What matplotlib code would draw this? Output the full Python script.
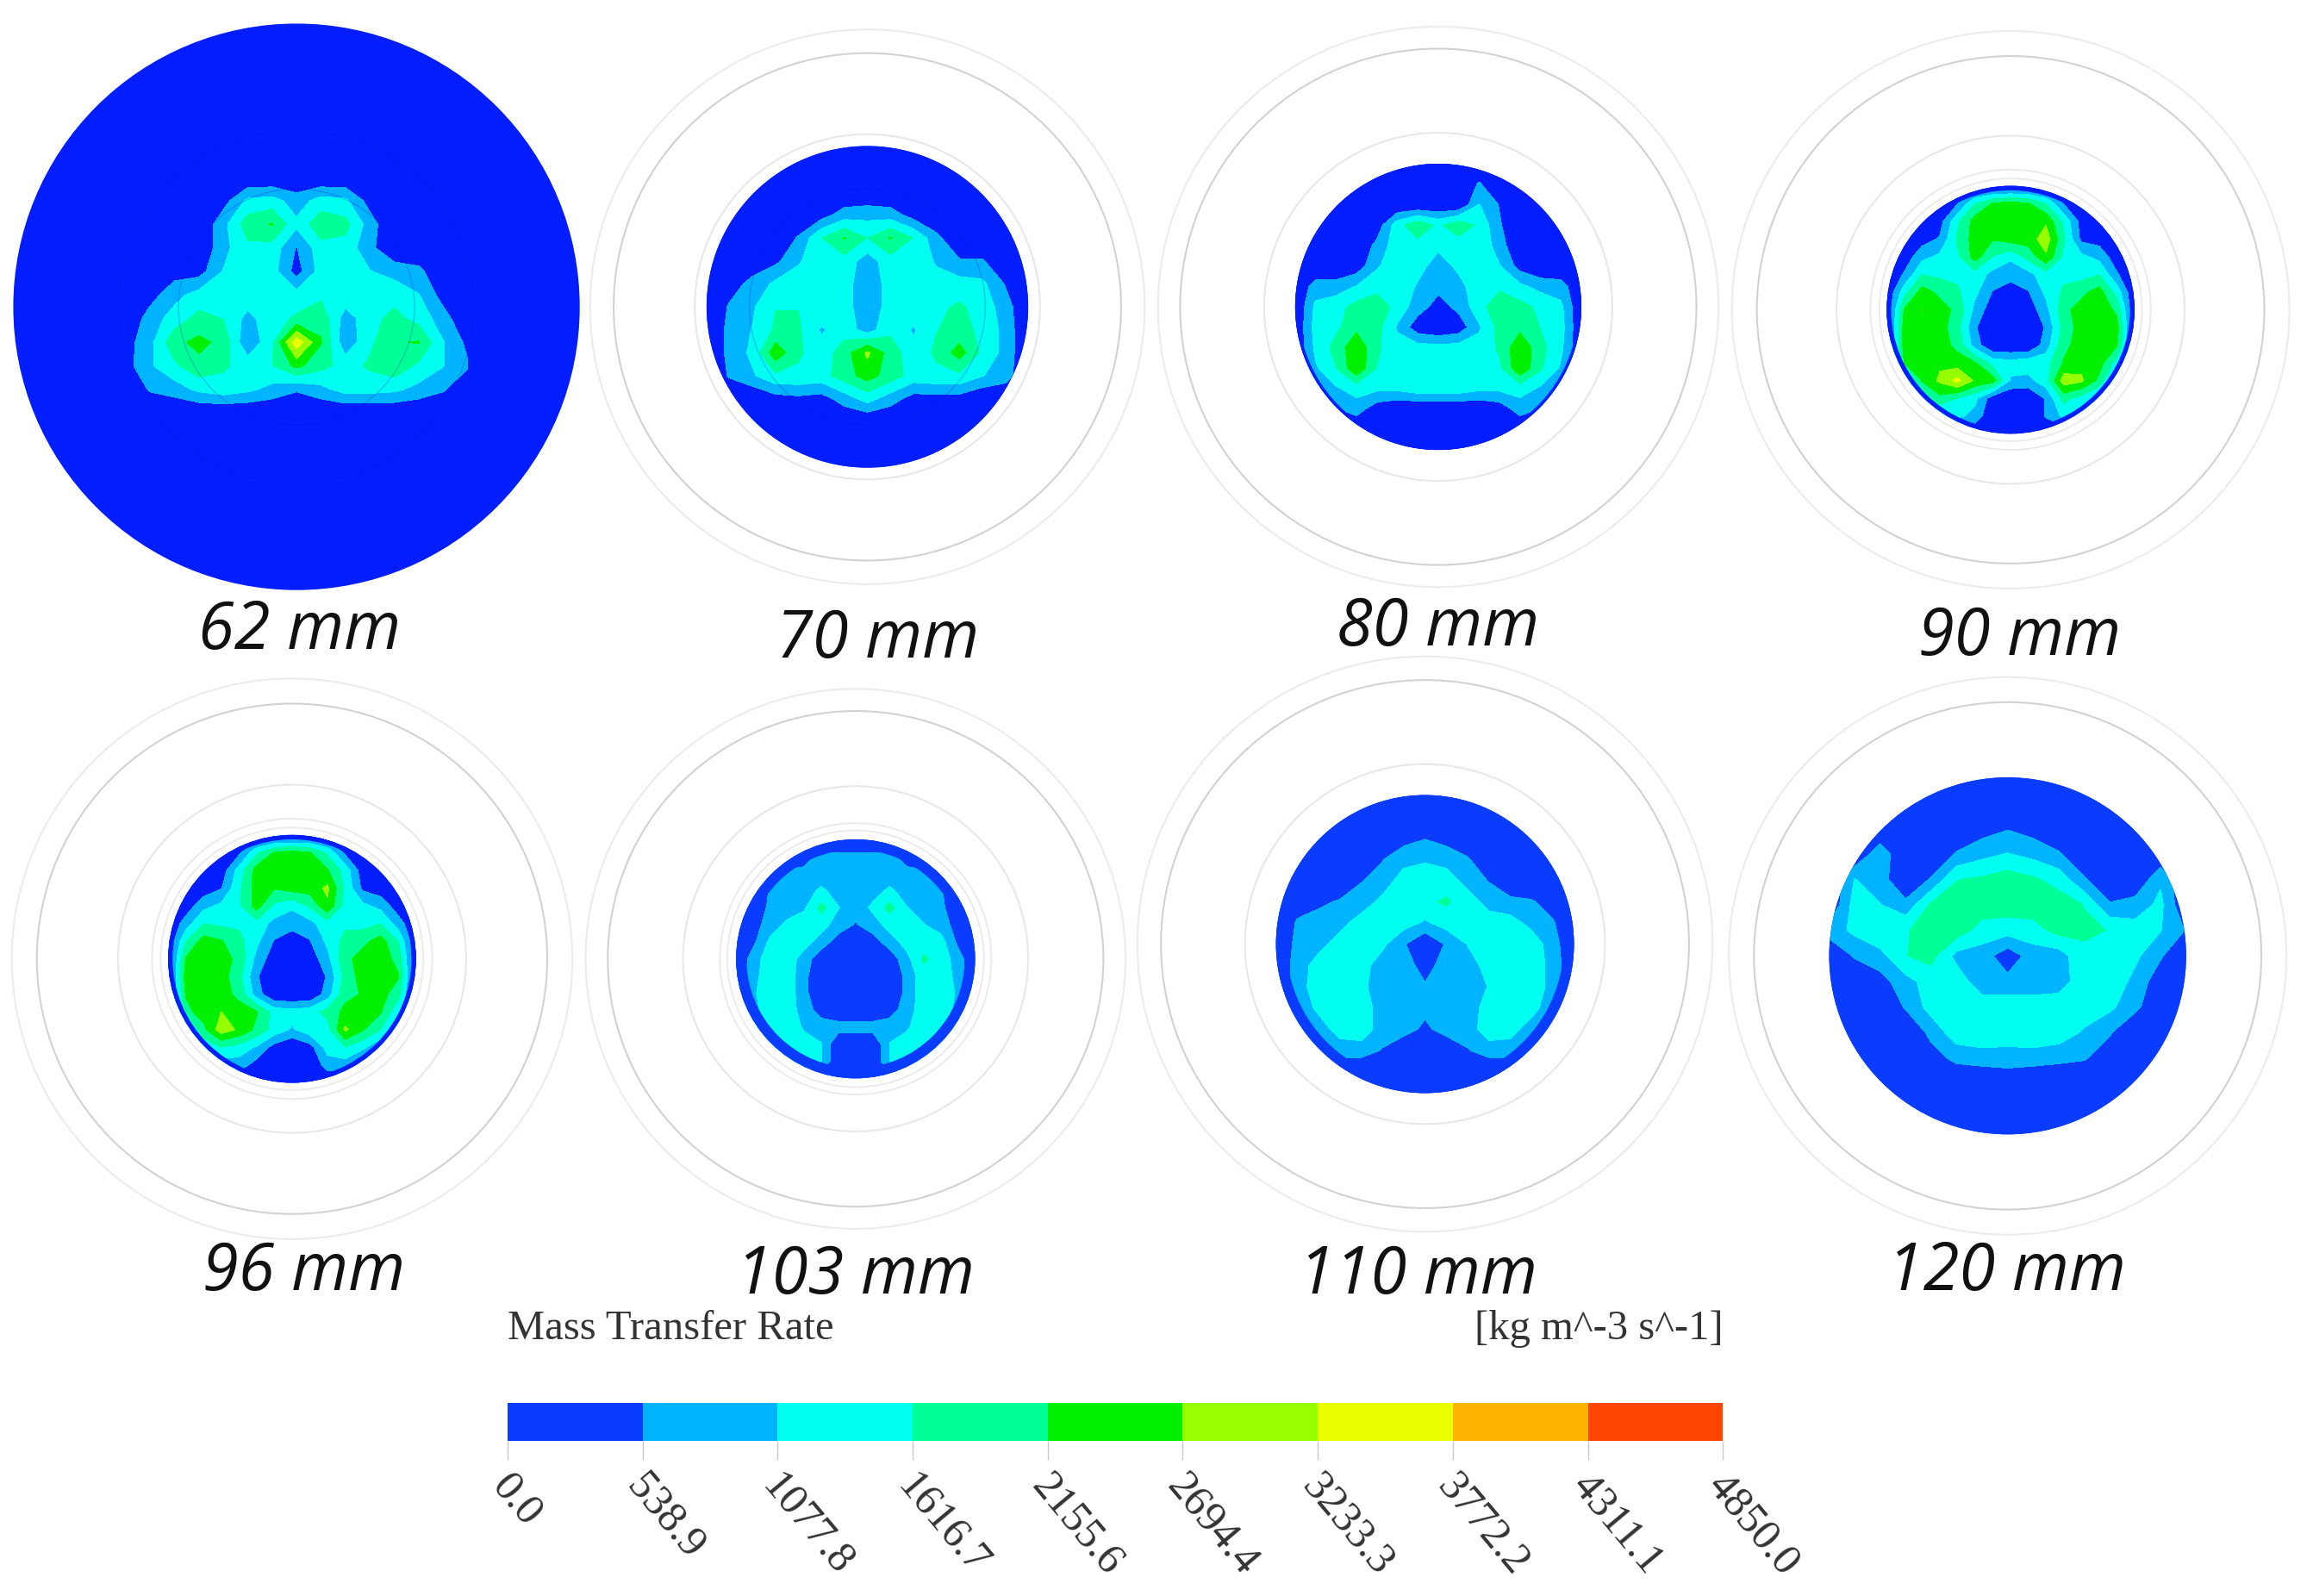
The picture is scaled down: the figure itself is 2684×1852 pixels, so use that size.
import numpy as np
import matplotlib
matplotlib.use("Agg")
import matplotlib.pyplot as plt
from matplotlib.colors import ListedColormap, BoundaryNorm
from matplotlib.patches import Circle
from matplotlib.cm import ScalarMappable
from matplotlib.transforms import ScaledTranslation

LEVELS = [0.0, 538.9, 1077.8, 1616.7, 2155.6, 2694.4, 3233.3, 3772.2, 4311.1, 4850.0]
LEVEL_LABELS = ["0.0", "538.9", "1077.8", "1616.7", "2155.6", "2694.4", "3233.3", "3772.2", "4311.1", "4850.0"]
BAND_COLORS = ["#0a3cff", "#00b4ff", "#00fff0", "#00ff96", "#00f000",
               "#96ff00", "#ebff00", "#ffb400", "#ff4600"]

LABELS = ["62 mm", "70 mm", "80 mm", "90 mm", "96 mm", "103 mm", "110 mm", "120 mm"]

# values, in hundreds of kg m^-3 s^-1, rows top to bottom
GRID_62 = [
    [0, 0, 0, 0, 0, 0, 0, 0, 0, 0, 0, 0, 0, 0, 0],
    [0, 0, 0, 0, 3, 12, 13, 8, 13, 12, 3, 0, 0, 0, 0],
    [0, 0, 0, 0, 9, 19, 22, 12, 20, 18, 8, 0, 0, 0, 0],
    [0, 0, 0, 0, 9, 15, 14, 5, 14, 14, 7, 0, 0, 0, 0],
    [0, 0, 3, 3, 11, 14, 13, 3, 13, 13, 11, 9, 7, 0, 0],
    [0, 3, 9, 13, 14, 14, 14, 13, 15, 14, 14, 14, 11, 3, 0],
    [0, 8, 13, 18, 16, 9, 14, 17, 20, 8, 14, 18, 14, 8, 0],
    [3, 9, 20, 23, 20, 6, 15, 36, 22, 7, 15, 21, 22, 11, 4],
    [3, 10, 15, 20, 17, 14, 16, 23, 18, 14, 17, 20, 15, 11, 6],
    [0, 6, 8, 12, 14, 12, 9, 6, 9, 13, 13, 12, 9, 6, 1],
    [0, 0, 0, 0, 0, 0, 0, 0, 0, 0, 0, 0, 0, 0, 0],
]
GRID_70 = [
    [0, 0, 0, 0, 0, 0, 0, 0, 0, 0, 0, 0, 0, 0, 0],
    [0, 0, 0, 0, 0, 0, 0, 0, 0, 0, 0, 0, 0, 0, 0],
    [0, 0, 0, 0, 0, 0, 0, 0, 0, 0, 0, 0, 0, 0, 0],
    [0, 0, 0, 0, 0, 3, 8, 9, 8, 3, 0, 0, 0, 0, 0],
    [0, 0, 0, 0, 6, 16, 22, 16, 22, 16, 7, 0, 0, 0, 0],
    [0, 0, 2, 4, 10, 15, 14, 8, 14, 15, 10, 6, 6, 0, 0],
    [0, 3, 7, 12, 14, 14, 13, 7, 13, 14, 13, 13, 12, 5, 0],
    [0, 6, 10, 16, 16, 15, 13, 7, 13, 15, 15, 17, 14, 8, 0],
    [0, 7, 11, 17, 17, 10, 14, 8, 15, 10, 16, 18, 15, 9, 0],
    [0, 7, 12, 25, 17, 13, 19, 28, 19, 13, 17, 24, 15, 9, 0],
    [0, 6, 10, 15, 15, 14, 19, 24, 19, 14, 15, 15, 11, 8, 0],
    [0, 0, 0, 3, 4, 3, 8, 13, 8, 3, 3, 3, 0, 0, 0],
    [0, 0, 0, 0, 0, 0, 0, 0, 0, 0, 0, 0, 0, 0, 0],
    [0, 0, 0, 0, 0, 0, 0, 0, 0, 0, 0, 0, 0, 0, 0],
    [0, 0, 0, 0, 0, 0, 0, 0, 0, 0, 0, 0, 0, 0, 0],
]
GRID_80 = [
    [0, 0, 0, 0, 0, 0, 0, 0, 0, 0, 0, 0, 0, 0, 0],
    [0, 0, 0, 0, 0, 0, 0, 0, 0, 6, 0, 0, 0, 0, 0],
    [0, 0, 0, 0, 0, 0, 0, 0, 0, 11, 5, 0, 0, 0, 0],
    [0, 0, 0, 0, 2, 14, 20, 15, 20, 15, 6, 0, 0, 0, 0],
    [0, 0, 0, 0, 7, 14, 14, 12, 13, 15, 8, 0, 0, 0, 0],
    [0, 0, 0, 2, 10, 14, 13, 8, 12, 14, 11, 3, 0, 0, 0],
    [0, 8, 8, 11, 14, 15, 10, 7, 9, 14, 15, 12, 9, 8, 0],
    [0, 12, 14, 18, 20, 14, 8, 3, 7, 14, 20, 18, 15, 12, 0],
    [0, 13, 15, 20, 18, 10, 2, 0, 2, 10, 18, 20, 16, 13, 0],
    [0, 12, 18, 26, 17, 13, 13, 13, 13, 13, 17, 26, 18, 12, 0],
    [0, 10, 16, 26, 16, 13, 15, 15, 15, 13, 15, 26, 17, 10, 0],
    [0, 5, 10, 13, 12, 12, 14, 14, 14, 12, 12, 13, 10, 5, 0],
    [0, 0, 5, 8, 2, 0, 0, 0, 0, 0, 2, 8, 5, 0, 0],
    [0, 0, 0, 0, 0, 0, 0, 0, 0, 0, 0, 0, 0, 0, 0],
    [0, 0, 0, 0, 0, 0, 0, 0, 0, 0, 0, 0, 0, 0, 0],
]
GRID_90 = [
    [0, 0, 0, 0, 0, 0, 0, 0, 0, 0, 0, 0, 0, 0, 0],
    [0, 0, 0, 0, 5, 16, 22, 24, 22, 16, 5, 0, 0, 0, 0],
    [0, 0, 0, 3, 15, 24, 24, 24, 24, 26, 15, 3, 0, 0, 0],
    [0, 0, 3, 6, 17, 24, 22, 24, 24, 30, 17, 4, 3, 0, 0],
    [0, 2, 9, 12, 15, 24, 16, 12, 18, 26, 15, 12, 9, 2, 0],
    [0, 6, 16, 15, 15, 14, 9, 7, 9, 14, 15, 14, 16, 6, 0],
    [0, 14, 24, 20, 17, 12, 5, 3, 5, 12, 17, 20, 24, 14, 0],
    [0, 22, 27, 24, 20, 9, 2, 0, 2, 9, 20, 24, 26, 20, 0],
    [0, 24, 25, 24, 18, 6, 0, 0, 0, 6, 18, 24, 25, 24, 0],
    [0, 24, 26, 24, 20, 8, 0, 0, 0, 8, 20, 24, 26, 22, 0],
    [0, 22, 26, 26, 24, 22, 14, 13, 14, 14, 22, 25, 24, 14, 0],
    [0, 8, 22, 28, 34, 26, 24, 10, 9, 14, 30, 28, 20, 5, 0],
    [0, 2, 14, 20, 16, 12, 2, 0, 0, 6, 18, 14, 8, 2, 0],
    [0, 0, 2, 9, 12, 9, 0, 0, 0, 6, 12, 9, 2, 0, 0],
    [0, 0, 0, 0, 0, 0, 0, 0, 0, 0, 0, 0, 0, 0, 0],
]
GRID_96 = [
    [0, 0, 0, 0, 0, 0, 0, 0, 0, 0, 0, 0, 0, 0, 0],
    [0, 0, 0, 0, 4, 15, 22, 24, 22, 15, 4, 0, 0, 0, 0],
    [0, 0, 0, 2, 13, 24, 24, 24, 24, 22, 14, 2, 0, 0, 0],
    [0, 0, 2, 5, 15, 24, 22, 24, 24, 28, 15, 4, 2, 0, 0],
    [0, 2, 9, 12, 15, 24, 15, 12, 17, 26, 14, 12, 9, 2, 0],
    [0, 8, 16, 15, 15, 14, 9, 7, 9, 14, 15, 14, 16, 8, 0],
    [0, 16, 24, 22, 18, 12, 5, 3, 5, 12, 18, 20, 24, 16, 0],
    [0, 22, 26, 24, 20, 9, 2, 0, 2, 9, 20, 24, 24, 20, 0],
    [0, 24, 24, 24, 18, 6, 0, 0, 0, 6, 18, 24, 24, 22, 0],
    [0, 22, 24, 24, 20, 8, 0, 0, 0, 8, 20, 22, 24, 18, 0],
    [0, 20, 24, 27, 24, 22, 14, 13, 14, 18, 23, 24, 22, 12, 0],
    [0, 8, 20, 30, 26, 20, 14, 10, 14, 14, 28, 22, 16, 5, 0],
    [0, 2, 12, 16, 14, 10, 3, 0, 3, 13, 16, 12, 6, 2, 0],
    [0, 0, 2, 8, 8, 3, 0, 0, 0, 8, 8, 2, 0, 0, 0],
    [0, 0, 0, 0, 0, 0, 0, 0, 0, 0, 0, 0, 0, 0, 0],
]
GRID_103 = [
    [0, 0, 0, 0, 0, 0, 0, 0, 0, 0, 0, 0, 0, 0, 0],
    [0, 0, 0, 0, 3, 7, 7, 7, 7, 7, 3, 0, 0, 0, 0],
    [0, 0, 0, 7, 7, 7, 7, 7, 7, 7, 7, 7, 0, 0, 0],
    [0, 0, 6, 7, 8, 12, 8, 8, 8, 12, 8, 7, 6, 0, 0],
    [0, 0, 7, 8, 10, 18, 11, 7, 12, 18, 11, 8, 7, 0, 0],
    [0, 3, 8, 12, 14, 13, 8, 5, 8, 13, 14, 11, 8, 3, 0],
    [0, 4, 12, 14, 13, 8, 3, 0, 3, 8, 13, 14, 13, 4, 0],
    [0, 8, 14, 14, 8, 2, 0, 0, 0, 2, 9, 17, 14, 8, 0],
    [0, 9, 14, 14, 7, 0, 0, 0, 0, 0, 7, 14, 14, 9, 0],
    [0, 10, 14, 14, 7, 0, 0, 0, 0, 0, 7, 14, 14, 10, 0],
    [0, 9, 14, 14, 8, 3, 0, 0, 0, 3, 8, 14, 14, 9, 0],
    [0, 8, 13, 14, 10, 8, 8, 8, 8, 8, 10, 14, 13, 8, 0],
    [0, 0, 12, 14, 13, 11, 0, 0, 0, 11, 13, 13, 12, 0, 0],
    [0, 0, 6, 13, 12, 11, 0, 0, 0, 11, 12, 13, 6, 0, 0],
    [0, 0, 0, 0, 0, 0, 0, 0, 0, 0, 0, 0, 0, 0, 0],
]
GRID_110 = [
    [0, 0, 0, 0, 0, 0, 0, 0, 0, 0, 0, 0, 0, 0, 0],
    [0, 0, 0, 0, 0, 0, 0, 0, 0, 0, 0, 0, 0, 0, 0],
    [0, 0, 0, 0, 0, 0, 3, 5, 3, 0, 0, 0, 0, 0, 0],
    [0, 0, 0, 0, 0, 5, 9, 10, 9, 6, 0, 0, 0, 0, 0],
    [0, 0, 0, 0, 5, 8, 13, 14, 13, 9, 5, 0, 0, 0, 0],
    [0, 3, 4, 6, 8, 12, 14, 15, 17, 13, 9, 7, 6, 3, 0],
    [0, 6, 8, 9, 13, 14, 13, 10, 13, 14, 13, 13, 9, 6, 0],
    [0, 7, 9, 13, 14, 12, 6, 0, 6, 11, 14, 14, 14, 8, 0],
    [0, 8, 13, 14, 13, 8, 8, 3, 8, 8, 13, 14, 14, 9, 0],
    [0, 8, 14, 14, 12, 8, 8, 6, 8, 8, 11, 14, 14, 9, 0],
    [0, 7, 12, 13, 14, 8, 8, 7, 8, 8, 13, 14, 13, 7, 0],
    [0, 6, 8, 13, 14, 8, 8, 4, 8, 8, 14, 13, 8, 6, 0],
    [0, 3, 7, 8, 8, 5, 0, 0, 0, 5, 8, 8, 7, 3, 0],
    [0, 0, 0, 0, 0, 0, 0, 0, 0, 0, 0, 0, 0, 0, 0],
    [0, 0, 0, 0, 0, 0, 0, 0, 0, 0, 0, 0, 0, 0, 0],
]
GRID_120 = [
    [0, 0, 0, 0, 0, 0, 0, 0, 0, 0, 0, 0, 0, 0, 0],
    [0, 0, 0, 0, 0, 0, 0, 0, 0, 0, 0, 0, 0, 0, 0],
    [0, 0, 0, 0, 0, 0, 3, 5, 3, 0, 0, 0, 0, 0, 0],
    [0, 0, 9, 0, 0, 6, 9, 11, 9, 6, 0, 0, 0, 0, 0],
    [0, 11, 8, 0, 6, 16, 17, 19, 17, 14, 6, 0, 0, 10, 0],
    [0, 13, 11, 7, 17, 18, 19, 19, 19, 19, 16, 6, 8, 12, 0],
    [8, 12, 15, 16, 17, 19, 14, 13, 14, 18, 17, 16, 13, 11, 5],
    [0, 6, 9, 16, 18, 9, 8, 2, 8, 8, 15, 15, 12, 6, 0],
    [0, 0, 3, 9, 13, 14, 7, 7, 7, 8, 14, 15, 9, 2, 0],
    [0, 0, 0, 6, 13, 14, 14, 14, 14, 14, 14, 12, 7, 0, 0],
    [0, 0, 0, 0, 7, 14, 15, 13, 15, 14, 10, 6, 0, 0, 0],
    [0, 0, 0, 0, 3, 7, 8, 9, 8, 7, 6, 2, 0, 0, 0],
    [0, 0, 0, 0, 0, 0, 0, 0, 0, 0, 0, 0, 0, 0, 0],
    [0, 0, 0, 0, 0, 0, 0, 0, 0, 0, 0, 0, 0, 0, 0],
    [0, 0, 0, 0, 0, 0, 0, 0, 0, 0, 0, 0, 0, 0, 0],
]
GRIDS = [GRID_62, GRID_70, GRID_80, GRID_90, GRID_96, GRID_103, GRID_110, GRID_120]

S = 2684 / 1568  # layout below measured on the shrunk picture

# cx, cy, disc radius, base colour, rim width in shrunk px
PANELS = [
    (201, 208, 192, "#021eff", 0),
    (588, 208, 109, "#021eff", 0),
    (975, 208, 97, "#021eff", 2),
    (1363, 210, 84, "#021eff", 3),
    (198, 650, 84, "#021eff", 3),
    (580, 650, 81, "#0a3cff", 7),
    (966, 640, 101, "#0a3cff", 7),
    (1361, 648, 121, "#0a3cff", 0),
]
# grid box as (half width, top, bottom) in disc radii
BOXES = [(0.604, -0.458, 0.375)] + [(1, -1, 1)] * 7
RINGS = [
    [],
    [188, 172, 117],
    [190, 175, 118],
    [189, 172, 118, 95, 89],
    [190, 173, 118, 95, 89],
    [183, 168, 117, 92, 87],
    [195, 179, 122],
    [189, 172],
]
RING_COLORS = ["#ececec", "#d2d2d2", "#e8e8e8", "#ececec", "#ececec"]
INNER_RINGS = [[120, 80], [80], [], [], [], [], [], []]
LABEL_POS = [(203, 428), (595, 434), (975, 426), (1369, 432),
             (206, 863), (580, 865), (961, 865), (1360, 863)]

fig = plt.figure(figsize=(26.84, 18.52), dpi=100)
ax = fig.add_axes([0, 0, 1, 1])
ax.set_xlim(0, 2684)
ax.set_ylim(1852, 0)
ax.axis("off")

for i in range(8):
    cx, cy, r, base, rim = PANELS[i]
    cx, cy, r = cx * S, cy * S, r * S
    for k, rr in enumerate(RINGS[i]):
        ax.add_patch(Circle((cx, cy), rr * S, fill=False, ec=RING_COLORS[k], lw=1.5, zorder=1))

    disc = Circle((cx, cy), r, fc=base, ec="none", zorder=2)
    ax.add_patch(disc)

    z = np.array(GRIDS[i], dtype=float) * 100
    hw, top, bottom = BOXES[i]
    xs = cx + r * np.linspace(-hw, hw, z.shape[1])
    ys = cy + r * np.linspace(top, bottom, z.shape[0])
    cs = ax.contourf(xs, ys, z, levels=LEVELS, colors=[base] + BAND_COLORS[1:], zorder=3)
    cs.set_clip_path(disc)

    for rr in INNER_RINGS[i]:
        ax.add_patch(Circle((cx, cy), rr * S, fill=False, ec="#0016c8", lw=1.2, alpha=0.2, zorder=4))
    if rim:
        ax.add_patch(Circle((cx, cy), r - rim * S / 2, fill=False, ec=base, lw=rim * S * 0.72, zorder=5))

    lx, ly = LABEL_POS[i]
    ax.text(lx * S, ly * S, LABELS[i], family="Open Sans", style="italic", fontsize=54.5,
            color="#111111", ha="center", va="center")

ax.text(344 * S, 901 * S, "Mass Transfer Rate", family="Liberation Serif", fontsize=35,
        color="#333333", ha="left", va="center")
ax.text(1168 * S, 901 * S, "[kg m^-3 s^-1]", family="Liberation Serif", fontsize=35,
        color="#333333", ha="right", va="center")

# colour bar
cax = fig.add_axes([344 * S / 2684, 1 - 977 * S / 1852, 824 * S / 2684, 26 * S / 1852])
cmap = ListedColormap(BAND_COLORS)
norm = BoundaryNorm(LEVELS, cmap.N)
cb = fig.colorbar(ScalarMappable(norm=norm, cmap=cmap), cax=cax, orientation="horizontal",
                  spacing="uniform", ticks=LEVELS)
cb.outline.set_visible(False)
cb.ax.tick_params(length=16, width=1, color="#c8c8c8", pad=16)
cb.ax.set_xticklabels(LEVEL_LABELS, family="Liberation Serif", fontsize=36, color="#333333",
                      rotation=-50, rotation_mode="anchor", ha="left", va="center")
shift = ScaledTranslation(-7 / 72, 0, fig.dpi_scale_trans)
for t in cb.ax.get_xticklabels():
    t.set_transform(t.get_transform() + shift)

fig.savefig("out.png", dpi=100)
